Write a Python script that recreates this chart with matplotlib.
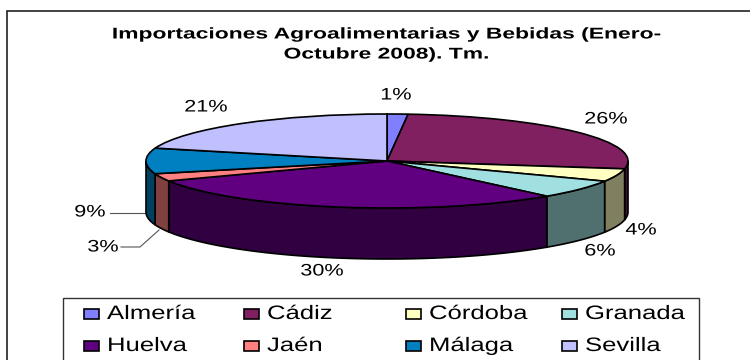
import numpy as np
import matplotlib
matplotlib.use('Agg')
import matplotlib.pyplot as plt
from matplotlib.patches import Polygon, Rectangle
from matplotlib.patheffects import AbstractPathEffect
from matplotlib.transforms import Affine2D

plt.rcParams['font.family'] = ['Liberation Sans', 'DejaVu Sans']

W, H = 750, 360

provincias = ['Almería', 'Cádiz', 'Córdoba', 'Granada', 'Huelva', 'Jaén', 'Málaga', 'Sevilla']
valores = [1.4, 26.3, 4.4, 6.4, 29.6, 2.6, 8.8, 20.6]
colores = ['#8080FF', '#802060', '#FFFFC0', '#A0E0E0', '#600080', '#FF8080', '#0080C0', '#C0C0FF']
laterales = ['#404080', '#401030', '#808060', '#507070', '#300040', '#804040', '#004060', '#606080']
titulo = 'Importaciones Agroalimentarias y Bebidas (Enero-\nOctubre 2008). Tm.'

# pie geometry, in pixels of the picture
cx, cy, rx, ry, depth = 387, 161, 241, 47, 51
# where each percentage sits
label_px = [(396, 95), (606, 119), (641, 230), (600, 251), (322, 271), (103, 247), (90, 212), (206, 107)]
# legend layout
leg_x = [84, 244, 406, 562]
leg_y = [319, 351]


class StretchX(AbstractPathEffect):
    # the source picture was widened, so the glyphs are wider than the font
    def __init__(self, s, anchor='center'):
        super().__init__()
        self.s = s
        self.anchor = anchor

    def draw_path(self, renderer, gc, tpath, affine, rgbFace=None):
        x0 = 0
        if self.anchor == 'center':
            ext = tpath.get_extents()
            x0 = (ext.x0 + ext.x1) / 2
        pre = Affine2D().translate(-x0, 0).scale(self.s, 1).translate(x0, 0)
        renderer.draw_path(gc, tpath, pre + affine, rgbFace)


def to_data(px, py):
    return (px - cx) / rx, (cy - py) / ry


fig = plt.figure(figsize=(W / 100, H / 100), dpi=100)
ax = fig.add_axes([0, 0, 1, 1])

# squashed axes turn the pie into an ellipse
ax.pie(valores, colors=colores, startangle=90, counterclock=False, radius=1,
       wedgeprops={'edgecolor': 'black', 'linewidth': 1.2, 'zorder': 3})
ax.set_aspect('auto')
ax.set_xlim(-cx / rx, (W - cx) / rx)
ax.set_ylim((cy - H) / ry, cy / ry)
ax.set_axis_off()

# front wall of the pie, only the part between 90 and 270 deg from the top
fracs = np.cumsum([0] + valores) / sum(valores) * 360
d = depth / ry
for i in range(len(valores)):
    a0 = max(fracs[i], 90)
    a1 = min(fracs[i + 1], 270)
    if a1 <= a0:
        continue
    t = np.radians(np.linspace(a0, a1, 60))
    xs = np.sin(t)
    ys = np.cos(t)
    pts = np.column_stack([np.r_[xs, xs[::-1]], np.r_[ys, ys[::-1] - d]])
    ax.add_patch(Polygon(pts, closed=True, facecolor=laterales[i], edgecolor='black',
                         linewidth=1.2, zorder=2))

for v, (px, py) in zip(valores, label_px):
    x, y = to_data(px, py)
    ax.text(x, y, f'{v:.0f}%', fontsize=12, ha='center', va='center', color='black',
            path_effects=[StretchX(1.3)])

# leader lines for the two small wedges
for line in ([(110, 213), (146, 213)], [(121, 247), (140, 247), (159, 230)]):
    xy = [to_data(*p) for p in line]
    ax.plot(*zip(*xy), color='#555555', lw=0.8, zorder=1)

fig.text(386 / W, 1 - 44 / H, titulo, fontsize=11.2, fontweight='bold', ha='center', va='center',
         linespacing=1.42, path_effects=[StretchX(1.47)])

# outer frame, cut by the right and bottom edges of the picture
ax.add_patch(Rectangle(to_data(7, H + 10), (W + 20) / rx, (H - 1) / ry, fill=False,
                       edgecolor='#222222', linewidth=1.2, zorder=0))

# legend box, its bottom edge falls outside the picture
ax.add_patch(Rectangle(to_data(63, H + 10), 636 / rx, (H + 10 - 298) / ry, fill=False,
                       edgecolor='#333333', linewidth=1, zorder=5))
n_col = len(leg_x)
for i, (nombre, color) in enumerate(zip(provincias, colores)):
    hx = leg_x[i % n_col]
    hy = leg_y[i // n_col]
    ax.add_patch(Rectangle(to_data(hx, hy), 15 / rx, 10 / ry, facecolor=color, edgecolor='black',
                           linewidth=1.2, zorder=5))
    tx, ty = to_data(hx + 23, hy)
    ax.text(tx, ty, nombre, fontsize=14, ha='left', va='baseline', color='black',
            path_effects=[StretchX(1.32, anchor='left')], zorder=5)

fig.savefig('out.png', dpi=100, facecolor='white')
